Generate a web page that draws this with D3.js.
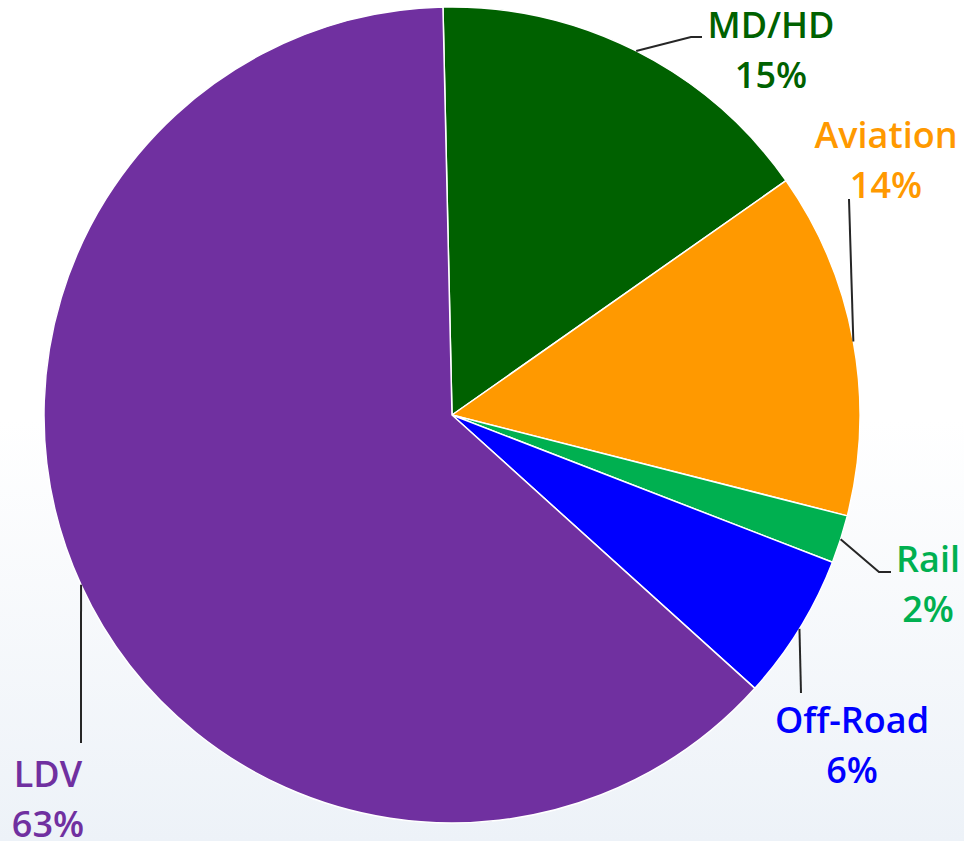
<!DOCTYPE html>
<html>
<head>
<meta charset="utf-8">
<script src="https://cdn.jsdelivr.net/npm/d3@7"></script>
<style>
  html, body { margin: 0; padding: 0; background: #fff; }
  svg { display: block; }
</style>
</head>
<body>
<svg id="chart"></svg>
<script>
// data (share of each mode, %)
const categories = ["MD/HD", "Aviation", "Rail", "Off-Road", "LDV"];
const values = [15.6, 13.7, 1.9, 5.8, 62.9];
const pctLabels = ["15%", "14%", "2%", "6%", "63%"];
const colors = ["#006100", "#ff9900", "#00b050", "#0000ff", "#7030a0"];

// where the labels sit and where their leader lines end
const labelLayout = [
  { cx: 771, y: 38, elbow: [691, 37], end: [702, 37] },
  { cx: 886, y: 148, end: [849, 199] },
  { cx: 928, y: 572, elbow: [879, 572], end: [891, 572] },
  { cx: 852, y: 733, end: [801, 693] },
  { cx: 48, y: 787, end: [81, 743] }
];

const width = 964, height = 841;
const cx = 452, cy = 415, radius = 408;
const start = -1.27 * Math.PI / 180;

const svg = d3.select("#chart")
  .attr("width", width)
  .attr("height", height);

// faint background gradient
const grad = svg.append("defs").append("linearGradient")
  .attr("id", "bg").attr("x1", 0).attr("y1", 0).attr("x2", 0).attr("y2", 1);
grad.append("stop").attr("offset", "0.5").attr("stop-color", "#ffffff");
grad.append("stop").attr("offset", "1").attr("stop-color", "#edf2f8");
svg.append("rect").attr("width", width).attr("height", height).attr("fill", "url(#bg)");

const pie = d3.pie().sort(null).startAngle(start).endAngle(start + 2 * Math.PI);
const arcs = pie(values);
const arc = d3.arc().innerRadius(0).outerRadius(radius);

const g = svg.append("g").attr("transform", `translate(${cx},${cy})`);

g.selectAll("path.slice")
  .data(arcs)
  .enter().append("path")
  .attr("class", "slice")
  .attr("d", arc)
  .attr("fill", (d, i) => colors[i])
  .attr("stroke", "#ffffff")
  .attr("stroke-width", 1.5)
  .attr("stroke-linejoin", "round");

// leader lines: from the arc at the slice's mid angle out to the label
const edgePoint = d => {
  const a = (d.startAngle + d.endAngle) / 2;
  return [cx + radius * Math.sin(a), cy - radius * Math.cos(a)];
};

svg.selectAll("path.leader")
  .data(arcs)
  .enter().append("path")
  .attr("class", "leader")
  .attr("d", (d, i) => {
    const L = labelLayout[i];
    const pts = [edgePoint(d)];
    if (L.elbow) pts.push(L.elbow);
    pts.push(L.end);
    return d3.line()(pts);
  })
  .attr("fill", "none")
  .attr("stroke", "#262626")
  .attr("stroke-width", 2);

// labels
const labels = svg.selectAll("text.lbl")
  .data(arcs)
  .enter().append("text")
  .attr("class", "lbl")
  .attr("text-anchor", "middle")
  .attr("font-family", "'Open Sans', 'Noto Sans', sans-serif")
  .attr("font-weight", 600)
  .attr("font-size", 36)
  .attr("fill", (d, i) => colors[i]);

labels.append("tspan")
  .attr("x", (d, i) => labelLayout[i].cx)
  .attr("y", (d, i) => labelLayout[i].y)
  .text((d, i) => categories[i]);

labels.append("tspan")
  .attr("x", (d, i) => labelLayout[i].cx)
  .attr("y", (d, i) => labelLayout[i].y + 50)
  .text((d, i) => pctLabels[i]);
</script>
</body>
</html>
